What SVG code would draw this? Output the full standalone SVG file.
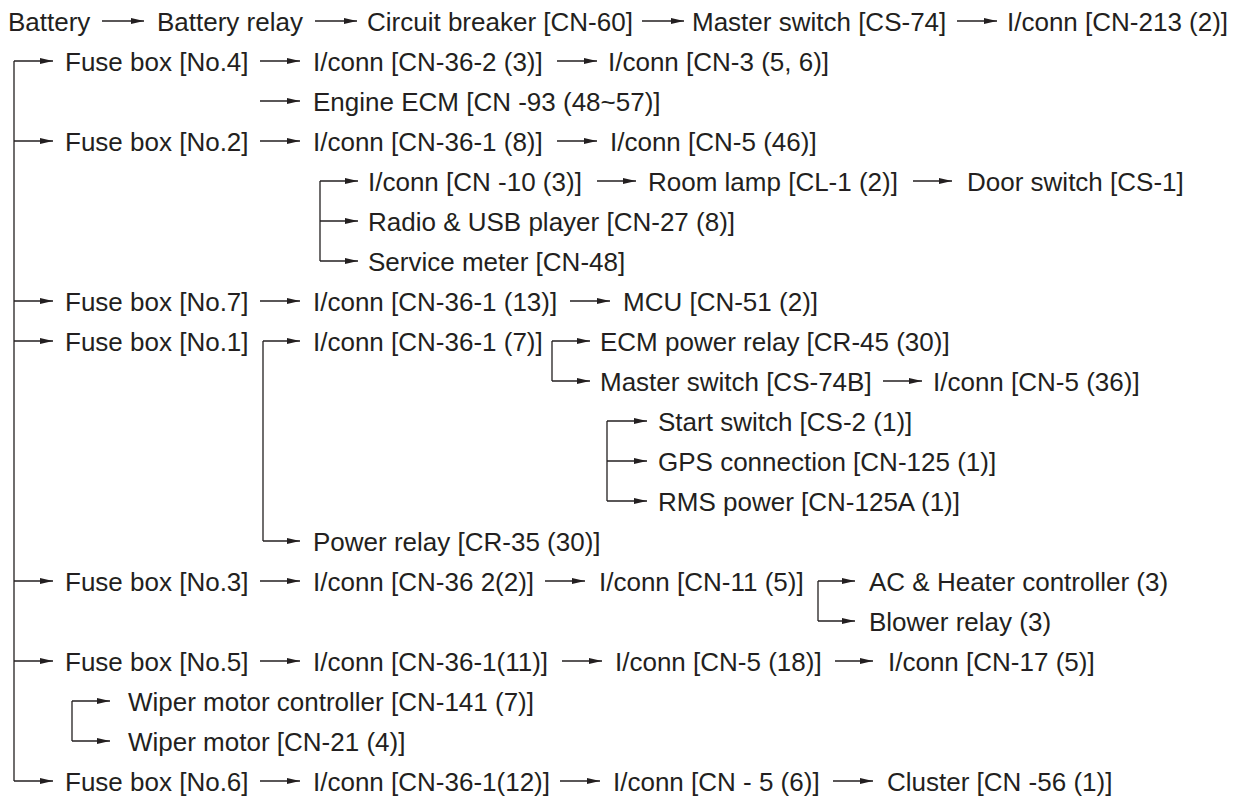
<svg xmlns="http://www.w3.org/2000/svg" width="1246" height="798" viewBox="0 0 1246 798">
<style>
.t{font-family:"Liberation Sans",Arial,Helvetica,sans-serif;font-size:26px;fill:#231f20}
.c{fill:none;stroke:#231f20;stroke-width:1.3}
.a{marker-end:url(#ah)}
</style>
<defs>
<marker id="ah" markerUnits="userSpaceOnUse" viewBox="0 0 14 8" markerWidth="14" markerHeight="8" refX="13" refY="4" orient="auto">
<path d="M0,1 L13,4 L0,7 Z" fill="#231f20"/>
</marker>
</defs>
<rect width="1246" height="798" fill="#fff"/>
<g id="connectors">
<path class="c a" d="M102,21 H144"/>
<path class="c a" d="M315,21 H357"/>
<path class="c a" d="M642,21 H684"/>
<path class="c a" d="M957,21 H997"/>
<path class="c" d="M14,61 V781"/>
<path class="c a" d="M14,61 H53"/>
<path class="c a" d="M260,61 H300"/>
<path class="c a" d="M557,61 H597"/>
<path class="c a" d="M260,101 H300"/>
<path class="c a" d="M14,141 H53"/>
<path class="c a" d="M260,141 H300"/>
<path class="c a" d="M557,141 H597"/>
<path class="c" d="M320,181 V261"/>
<path class="c a" d="M320,181 H358"/>
<path class="c a" d="M320,221 H358"/>
<path class="c a" d="M320,261 H358"/>
<path class="c a" d="M597,181 H636"/>
<path class="c a" d="M913,181 H952"/>
<path class="c a" d="M14,301 H53"/>
<path class="c a" d="M260,301 H300"/>
<path class="c a" d="M570,301 H610"/>
<path class="c a" d="M14,341 H53"/>
<path class="c" d="M263,341 V541"/>
<path class="c a" d="M263,341 H300"/>
<path class="c a" d="M263,541 H300"/>
<path class="c" d="M552,341 V381"/>
<path class="c a" d="M552,341 H590"/>
<path class="c a" d="M552,381 H590"/>
<path class="c a" d="M883,381 H922"/>
<path class="c" d="M607,421 V501"/>
<path class="c a" d="M607,421 H647"/>
<path class="c a" d="M607,461 H647"/>
<path class="c a" d="M607,501 H647"/>
<path class="c a" d="M14,581 H53"/>
<path class="c a" d="M260,581 H300"/>
<path class="c a" d="M545,581 H585"/>
<path class="c" d="M818,581 V621"/>
<path class="c a" d="M818,581 H855"/>
<path class="c a" d="M818,621 H855"/>
<path class="c a" d="M14,661 H53"/>
<path class="c a" d="M260,661 H300"/>
<path class="c a" d="M562,661 H602"/>
<path class="c a" d="M835,661 H873"/>
<path class="c" d="M72,701 V741"/>
<path class="c a" d="M72,701 H110"/>
<path class="c a" d="M72,741 H110"/>
<path class="c a" d="M14,781 H53"/>
<path class="c a" d="M260,781 H300"/>
<path class="c a" d="M560,781 H600"/>
<path class="c a" d="M833,781 H873"/>
</g>
<g id="n-battery"><text class="t" x="8" y="31">Battery</text></g>
<g id="n-battery-relay"><text class="t" x="157" y="31">Battery relay</text></g>
<g id="n-circuit-breaker"><text class="t" x="367" y="31">Circuit breaker [CN-60]</text></g>
<g id="n-master-switch"><text class="t" x="692" y="31">Master switch [CS-74]</text></g>
<g id="n-iconn-cn213"><text class="t" x="1007" y="31">I/conn [CN-213 (2)]</text></g>
<g id="n-fuse4"><text class="t" x="65" y="71">Fuse box [No.4]</text></g>
<g id="n-iconn-cn36-2-3"><text class="t" x="313" y="71">I/conn [CN-36-2 (3)]</text></g>
<g id="n-iconn-cn3"><text class="t" x="608" y="71">I/conn [CN-3 (5, 6)]</text></g>
<g id="n-engine-ecm"><text class="t" x="313" y="111">Engine ECM [CN -93 (48~57)]</text></g>
<g id="n-fuse2"><text class="t" x="65" y="151">Fuse box [No.2]</text></g>
<g id="n-iconn-cn36-1-8"><text class="t" x="313" y="151">I/conn [CN-36-1 (8)]</text></g>
<g id="n-iconn-cn5-46"><text class="t" x="610" y="151">I/conn [CN-5 (46)]</text></g>
<g id="n-iconn-cn10"><text class="t" x="368" y="191">I/conn [CN -10 (3)]</text></g>
<g id="n-room-lamp"><text class="t" x="648" y="191">Room lamp [CL-1 (2)]</text></g>
<g id="n-door-switch"><text class="t" x="967" y="191">Door switch [CS-1]</text></g>
<g id="n-radio"><text class="t" x="368" y="231">Radio &amp; USB player [CN-27 (8)]</text></g>
<g id="n-service-meter"><text class="t" x="368" y="271">Service meter [CN-48]</text></g>
<g id="n-fuse7"><text class="t" x="65" y="311">Fuse box [No.7]</text></g>
<g id="n-iconn-cn36-1-13"><text class="t" x="313" y="311">I/conn [CN-36-1 (13)]</text></g>
<g id="n-mcu"><text class="t" x="623" y="311">MCU [CN-51 (2)]</text></g>
<g id="n-fuse1"><text class="t" x="65" y="351">Fuse box [No.1]</text></g>
<g id="n-iconn-cn36-1-7"><text class="t" x="313" y="351">I/conn [CN-36-1 (7)]</text></g>
<g id="n-ecm-power-relay"><text class="t" x="600" y="351">ECM power relay [CR-45 (30)]</text></g>
<g id="n-master-switch-b"><text class="t" x="600" y="391">Master switch [CS-74B]</text></g>
<g id="n-iconn-cn5-36"><text class="t" x="933" y="391">I/conn [CN-5 (36)]</text></g>
<g id="n-start-switch"><text class="t" x="658" y="431">Start switch [CS-2 (1)]</text></g>
<g id="n-gps"><text class="t" x="658" y="471">GPS connection [CN-125 (1)]</text></g>
<g id="n-rms"><text class="t" x="658" y="511">RMS power [CN-125A (1)]</text></g>
<g id="n-power-relay"><text class="t" x="313" y="551">Power relay [CR-35 (30)]</text></g>
<g id="n-fuse3"><text class="t" x="65" y="591">Fuse box [No.3]</text></g>
<g id="n-iconn-cn36-2-2"><text class="t" x="313" y="591">I/conn [CN-36 2(2)]</text></g>
<g id="n-iconn-cn11"><text class="t" x="599" y="591">I/conn [CN-11 (5)]</text></g>
<g id="n-ac-heater"><text class="t" x="869" y="591">AC &amp; Heater controller (3)</text></g>
<g id="n-blower"><text class="t" x="869" y="631">Blower relay (3)</text></g>
<g id="n-fuse5"><text class="t" x="65" y="671">Fuse box [No.5]</text></g>
<g id="n-iconn-cn36-1-11"><text class="t" x="313" y="671">I/conn [CN-36-1(11)]</text></g>
<g id="n-iconn-cn5-18"><text class="t" x="615" y="671">I/conn [CN-5 (18)]</text></g>
<g id="n-iconn-cn17"><text class="t" x="888" y="671">I/conn [CN-17 (5)]</text></g>
<g id="n-wiper-controller"><text class="t" x="128" y="711">Wiper motor controller [CN-141 (7)]</text></g>
<g id="n-wiper-motor"><text class="t" x="128" y="751">Wiper motor [CN-21 (4)]</text></g>
<g id="n-fuse6"><text class="t" x="65" y="791">Fuse box [No.6]</text></g>
<g id="n-iconn-cn36-1-12"><text class="t" x="313" y="791">I/conn [CN-36-1(12)]</text></g>
<g id="n-iconn-cn5-6"><text class="t" x="613" y="791">I/conn [CN - 5 (6)]</text></g>
<g id="n-cluster"><text class="t" x="887" y="791">Cluster [CN -56 (1)]</text></g>
</svg>
